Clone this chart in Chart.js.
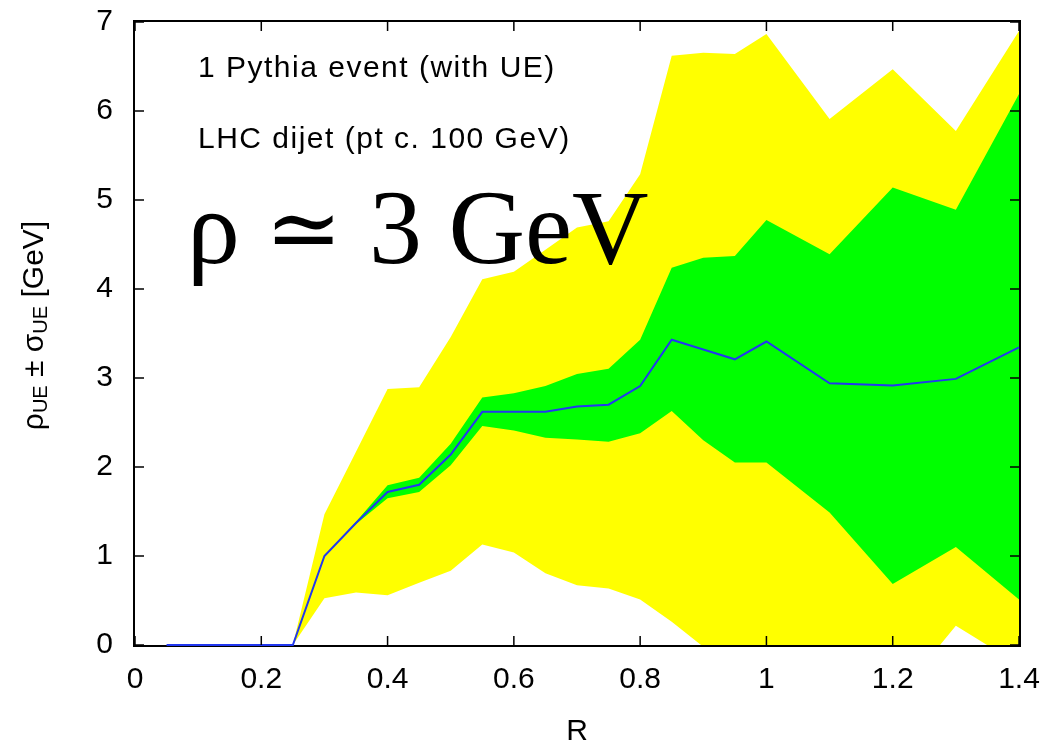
<!DOCTYPE html>
<html>
<head>
<meta charset="utf-8">
<script src="https://cdn.jsdelivr.net/npm/chart.js@4.4.1/dist/chart.umd.min.js"></script>
<style>
  html, body { margin: 0; padding: 0; background: #fff; }
  #wrap { width: 1052px; height: 745px; }
</style>
</head>
<body>
<div id="wrap"><canvas id="rhoChart" width="1052" height="745"></canvas></div>
<script>
// R values of the samples
const R = [0.05, 0.1, 0.15, 0.2, 0.25, 0.3, 0.35, 0.4, 0.45, 0.5, 0.55, 0.6, 0.65, 0.7,
           0.75, 0.8, 0.85, 0.9, 0.95, 1.0, 1.1, 1.2, 1.3, 1.4];

// central rho_UE
const rho = [0, 0, 0, 0, 0, 1.00, 1.37, 1.72, 1.80, 2.14, 2.62, 2.62, 2.62, 2.68,
             2.70, 2.91, 3.43, 3.32, 3.21, 3.41, 2.94, 2.915, 2.99, 3.345];

// green band (inner)
const greenHigh = [0, 0, 0, 0, 0, 1.0, 1.385, 1.795, 1.88, 2.26, 2.78, 2.83, 2.91, 3.045,
                   3.105, 3.43, 4.24, 4.35, 4.37, 4.775, 4.39, 5.14, 4.89, 6.19];
const greenLow = [0, 0, 0, 0, 0, 1.0, 1.36, 1.65, 1.72, 2.02, 2.46, 2.41, 2.33, 2.31,
                  2.285, 2.38, 2.63, 2.30, 2.05, 2.05, 1.49, 0.685, 1.10, 0.51];

// yellow band (outer), goes below 0 on the right
const yellowHigh = [0, 0, 0, 0, 0, 1.47, 2.17, 2.876, 2.895, 3.46, 4.11, 4.195, 4.44, 4.69,
                    4.76, 5.29, 6.62, 6.655, 6.64, 6.865, 5.91, 6.47, 5.775, 6.90];
const yellowLow = [0, 0, 0, 0, 0, 0.525, 0.59, 0.56, 0.70, 0.835, 1.13, 1.04, 0.805, 0.67,
                   0.635, 0.51, 0.26, -0.02, -0.22, -0.04, -0.03, -0.645, 0.215, -0.22];

const xTicks = [0, 0.2, 0.4, 0.6, 0.8, 1.0, 1.2, 1.4];
const yTicks = [0, 1, 2, 3, 4, 5, 6, 7];

const sans = '"Liberation Sans", Arial, Helvetica, sans-serif';

function pts(arr) {
    return R.map((r, i) => ({ x: r, y: arr[i] }));
}

// frame goes under the data so the flat blue line at 0 stays visible
const frame = {
    id: 'frame',
    beforeDatasetsDraw(chart) {
        const { ctx, chartArea: a } = chart;
        ctx.save();
        ctx.strokeStyle = '#000';
        ctx.lineWidth = 2;
        ctx.strokeRect(a.left - 1, a.top - 1, a.right - a.left + 2, a.bottom - a.top + 2);
        ctx.restore();
    }
};

// inward ticks and all the text labels
const overlay = {
    id: 'overlay',
    afterDraw(chart) {
        const { ctx, chartArea: a, scales: { x, y } } = chart;
        ctx.save();

        ctx.strokeStyle = '#000';
        ctx.lineWidth = 1.5;
        ctx.beginPath();
        xTicks.forEach(v => {
            const px = x.getPixelForValue(v);
            ctx.moveTo(px, a.bottom); ctx.lineTo(px, a.bottom - 9);
            ctx.moveTo(px, a.top); ctx.lineTo(px, a.top + 9);
        });
        yTicks.forEach(v => {
            const py = y.getPixelForValue(v);
            ctx.moveTo(a.left, py); ctx.lineTo(a.left + 9, py);
            ctx.moveTo(a.right, py); ctx.lineTo(a.right - 9, py);
        });
        ctx.stroke();

        ctx.fillStyle = '#000';
        ctx.textAlign = 'left';
        ctx.textBaseline = 'alphabetic';
        ctx.font = '30px ' + sans;
        ctx.letterSpacing = '1.5px';
        ctx.fillText('1 Pythia event (with UE)', a.left + 63, a.top + 55);
        ctx.fillText('LHC dijet (pt c. 100 GeV)', a.left + 63, a.top + 126);
        ctx.letterSpacing = '0px';

        ctx.font = '106px "Liberation Serif", "DejaVu Serif", "Times New Roman", serif';
        ctx.fillText('\u03C1', a.left + 52, a.top + 241);
        ctx.font = '92px "DejaVu Serif", "Liberation Serif", serif';
        ctx.fillText('\u2243', a.left + 130, a.top + 238);
        ctx.font = '106px "Liberation Serif", "DejaVu Serif", "Times New Roman", serif';
        ctx.fillText('3 GeV', a.left + 234, a.top + 241);

        // x title
        ctx.font = '30px ' + sans;
        ctx.textAlign = 'center';
        ctx.fillText('R', (a.left + a.right) / 2, 740);

        // y title with subscripts
        const parts = [
            ['\u03C1', 30, 0], ['UE', 20, 4], [' \u00B1 \u03C3', 30, 0], ['UE', 20, 4], [' [GeV]', 30, 0]
        ];
        let total = 0;
        parts.forEach(p => { ctx.font = p[1] + 'px ' + sans; total += ctx.measureText(p[0]).width; });
        ctx.translate(43, (a.top + a.bottom) / 2 - 8);
        ctx.rotate(-Math.PI / 2);
        ctx.textAlign = 'left';
        let cx = -total / 2;
        parts.forEach(p => {
            ctx.font = p[1] + 'px ' + sans;
            ctx.fillText(p[0], cx, p[2]);
            cx += ctx.measureText(p[0]).width;
        });
        ctx.restore();
    }
};

new Chart(document.getElementById('rhoChart'), {
    type: 'line',
    data: {
        datasets: [
            {
                label: 'rho',
                data: pts(rho),
                borderColor: '#2238f0',
                borderWidth: 2,
                pointRadius: 0,
                fill: false,
                order: 0,
                clip: 4
            },
            {
                label: 'green high',
                data: pts(greenHigh),
                borderWidth: 0,
                pointRadius: 0,
                backgroundColor: '#00ff00',
                fill: 2,
                order: 1
            },
            {
                label: 'green low',
                data: pts(greenLow),
                borderWidth: 0,
                pointRadius: 0,
                fill: false,
                order: 1
            },
            {
                label: 'yellow high',
                data: pts(yellowHigh),
                borderWidth: 0,
                pointRadius: 0,
                backgroundColor: '#ffff00',
                fill: 4,
                order: 2
            },
            {
                label: 'yellow low',
                data: pts(yellowLow),
                borderWidth: 0,
                pointRadius: 0,
                fill: false,
                order: 2
            }
        ]
    },
    options: {
        responsive: false,
        animation: false,
        devicePixelRatio: 1,
        layout: { padding: { left: 0, top: 22, right: 33, bottom: 0 } },
        elements: { line: { tension: 0 } },
        plugins: {
            legend: { display: false },
            tooltip: { enabled: false }
        },
        scales: {
            x: {
                type: 'linear',
                min: 0,
                max: 1.4,
                grid: { display: false, drawTicks: false },
                border: { display: false },
                afterBuildTicks: s => { s.ticks = xTicks.map(v => ({ value: v })); },
                ticks: {
                    color: '#000',
                    padding: 17,
                    font: { family: sans, size: 30 },
                    callback: v => String(Math.round(v * 10) / 10)
                },
                afterFit: s => {
                    s.height = 100;
                    s.paddingLeft = 0;
                    s.paddingRight = 0;
                }
            },
            y: {
                min: 0,
                max: 7,
                grid: { display: false, drawTicks: false },
                border: { display: false },
                afterBuildTicks: s => { s.ticks = yTicks.map(v => ({ value: v })); },
                ticks: {
                    color: '#000',
                    padding: 22,
                    font: { family: sans, size: 30 }
                },
                afterFit: s => {
                    s.width = 135;
                    s.paddingTop = 0;
                    s.paddingBottom = 0;
                }
            }
        }
    },
    plugins: [frame, overlay]
});
</script>
</body>
</html>
